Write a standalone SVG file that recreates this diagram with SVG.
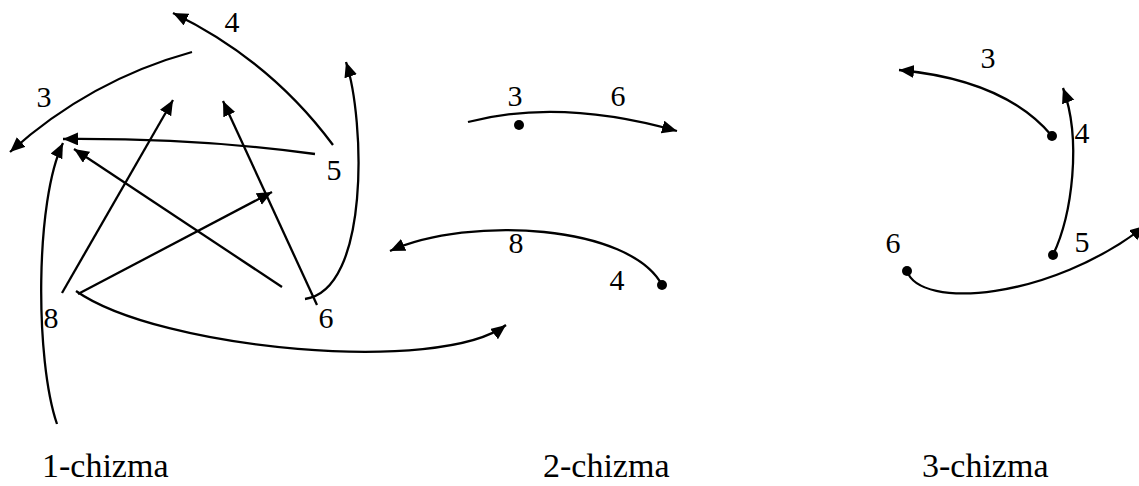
<svg xmlns="http://www.w3.org/2000/svg" width="1139" height="486" viewBox="0 0 1139 486">
<style>
.c{fill:none;stroke:#000;stroke-width:2.3}
.a{marker-end:url(#ah)}
.t{font-family:"Liberation Serif","Times New Roman",serif;font-size:30px;fill:#000;text-anchor:middle}
.cap{font-family:"Liberation Serif","Times New Roman",serif;font-size:34px;fill:#000}
.d{fill:#000}
</style>
<defs>
<marker id="ah" markerUnits="userSpaceOnUse" markerWidth="16" markerHeight="14" refX="15" refY="6.5" orient="auto">
<path d="M0,0 L15,6.5 L0,13 z" fill="#000"/>
</marker>
</defs>
<rect width="1139" height="486" fill="#fff"/>
<g id="connectors">
<path class="c a" d="M333,145 Q270,60 173,13"/>
<path class="c a" d="M192,52 Q90,80 10,152"/>
<path class="c a" d="M315,154 Q200,138 63,139"/>
<path class="c a" d="M62,293 L173,100"/>
<path class="c a" d="M317,305 L223,101"/>
<path class="c a" d="M78,294 L272,192"/>
<path class="c a" d="M282,287 L74,149"/>
<path class="c a" d="M57,424 C35,360 35,200 63,143"/>
<path class="c a" d="M305,299 C370,290 365,120 346,62"/>
<path class="c a" d="M76,291 C160,350 440,375 506,325"/>
<path class="c a" d="M468,122 Q560,98 677,131"/>
<path class="c a" d="M662,285 C630,225 470,215 390,251"/>
<path class="c a" d="M1052,136 Q1005,80 899,70"/>
<path class="c a" d="M1053,255 C1072,215 1082,140 1063,88"/>
<path class="c a" d="M907,271 C920,310 1050,300 1145,226"/>
</g>
<g id="chizma1">
<text class="t" x="232" y="32">4</text>
<text class="t" x="44" y="107">3</text>
<text class="t" x="334" y="180">5</text>
<text class="t" x="51" y="328">8</text>
<text class="t" x="326" y="328">6</text>
<text class="cap" x="42" y="477">1-chizma</text>
</g>
<g id="chizma2">
<circle class="d" cx="519" cy="125" r="5"/>
<circle class="d" cx="662" cy="285" r="5"/>
<text class="t" x="515" y="106">3</text>
<text class="t" x="618" y="106">6</text>
<text class="t" x="516" y="253">8</text>
<text class="t" x="617" y="290">4</text>
<text class="cap" x="543" y="477">2-chizma</text>
</g>
<g id="chizma3">
<circle class="d" cx="1052" cy="136" r="5"/>
<circle class="d" cx="1053" cy="255" r="5"/>
<circle class="d" cx="907" cy="271" r="5"/>
<text class="t" x="988" y="68">3</text>
<text class="t" x="1082" y="143">4</text>
<text class="t" x="1082" y="252">5</text>
<text class="t" x="893" y="253">6</text>
<text class="cap" x="922" y="477">3-chizma</text>
</g>
</svg>
